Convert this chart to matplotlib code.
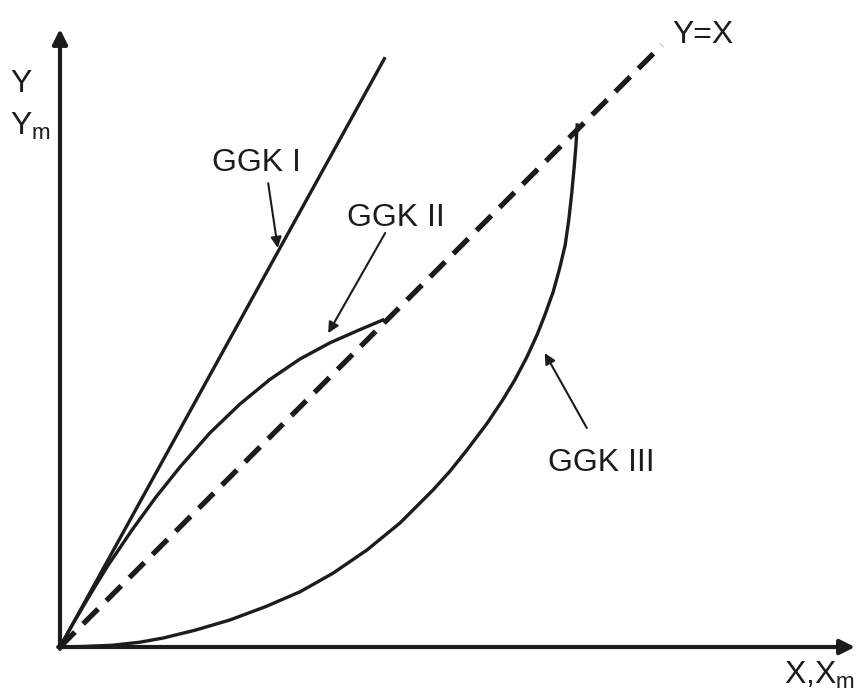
import numpy as np
import matplotlib
matplotlib.use("Agg")
import matplotlib.pyplot as plt

plt.rcParams['font.family'] = ['Liberation Sans', 'DejaVu Sans']
plt.rcParams['mathtext.fontset'] = 'custom'
plt.rcParams['mathtext.rm'] = 'Liberation Sans'
plt.rcParams['mathtext.it'] = 'Liberation Sans'

INK = '#1c1c1c'

# Curves in relative units (X on the horizontal axis, Y on the vertical axis)
ggk1_x = [0.0, 0.542]
ggk1_y = [0.0, 0.983]

ggk2_x = [0.0, 0.02, 0.05, 0.08, 0.12, 0.16, 0.20, 0.25, 0.30, 0.35,
          0.40, 0.45, 0.50, 0.538]
ggk2_y = [0.0, 0.036, 0.087, 0.136, 0.195, 0.25, 0.30, 0.357, 0.405, 0.446,
          0.48, 0.507, 0.529, 0.545]

ggk3_x = [0.0, 0.042, 0.088, 0.133, 0.172, 0.225, 0.283, 0.342, 0.40, 0.455,
          0.512, 0.567, 0.622, 0.65, 0.678, 0.712, 0.738, 0.758, 0.778, 0.795,
          0.808, 0.822, 0.833, 0.842, 0.848, 0.853, 0.857, 0.86, 0.862]
ggk3_y = [0.0, 0.001, 0.003, 0.008, 0.015, 0.028, 0.045, 0.067, 0.092, 0.123,
          0.162, 0.207, 0.262, 0.293, 0.328, 0.373, 0.412, 0.445, 0.483, 0.52,
          0.553, 0.592, 0.632, 0.67, 0.712, 0.757, 0.80, 0.837, 0.87]

diag_x = [0.0, 1.003]
diag_y = [0.0, 1.003]

fig = plt.figure(figsize=(8.56, 6.91), dpi=100)
ax = fig.add_axes([0, 0, 1, 1])
ax.set_xlim(-0.1, 1.3267)
ax.set_ylim(-0.0733, 1.0783)
ax.axis('off')

# axes with arrow heads
axis_props = dict(arrowstyle='-|>', lw=3.0, color=INK, mutation_scale=22,
                  shrinkA=0, shrinkB=0)
ax.annotate('', xy=(0, 1.03), xytext=(0, -0.003), arrowprops=axis_props)
ax.annotate('', xy=(1.325, 0), xytext=(-0.003, 0), arrowprops=axis_props)

# Y = X reference line
ax.plot(diag_x, diag_y, color=INK, lw=3.8, linestyle=(0, (4, 2.2)),
        dash_capstyle='butt', solid_capstyle='butt')

ax.plot(ggk1_x, ggk1_y, color=INK, lw=2.4, solid_capstyle='butt')
ax.plot(ggk2_x, ggk2_y, color=INK, lw=2.4, solid_joinstyle='round')
ax.plot(ggk3_x, ggk3_y, color=INK, lw=2.4, solid_joinstyle='round')

# labels with pointer arrows
ptr = dict(arrowstyle='-|>', lw=1.5, color=INK, mutation_scale=16,
           shrinkA=0, shrinkB=0)
fs = 23
ax.text(0.253, 0.807, 'GGK I', fontsize=fs, color=INK, va='center')
ax.annotate('', xy=(0.363, 0.665), xytext=(0.347, 0.773), arrowprops=ptr)
ax.text(0.478, 0.715, 'GGK II', fontsize=fs, color=INK, va='center')
ax.annotate('', xy=(0.447, 0.523), xytext=(0.542, 0.69), arrowprops=ptr)
ax.text(0.813, 0.307, 'GGK III', fontsize=fs, color=INK, va='center')
ax.annotate('', xy=(0.808, 0.49), xytext=(0.878, 0.365), arrowprops=ptr)

ax.text(1.02, 1.02, 'Y=X', fontsize=fs, color=INK, va='center')
ax.text(-0.083, 0.938, 'Y', fontsize=fs, color=INK, va='center')
ax.text(-0.083, 0.867, r'Y$_\mathrm{m}$', fontsize=fs, color=INK, va='center')
ax.text(1.207, -0.047, r'X,X$_\mathrm{m}$', fontsize=fs, color=INK, va='center')

fig.savefig('out.png', dpi=100)
